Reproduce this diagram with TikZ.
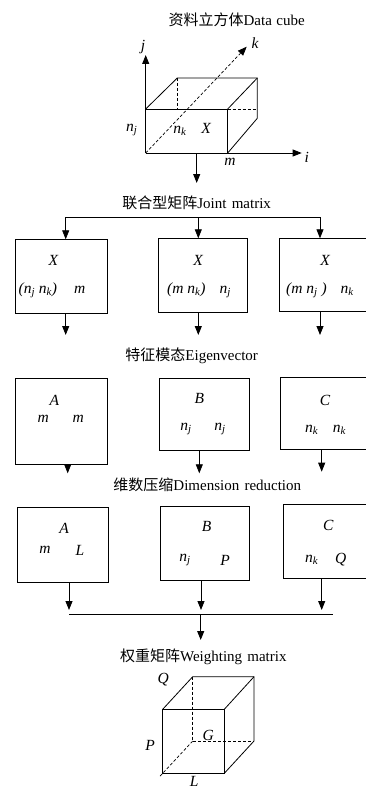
\documentclass[tikz,border=0pt]{standalone}
\usepackage{fontspec}
\setmainfont{Liberation Serif}
\newfontfamily\cjk{Noto Sans CJK SC}
\usetikzlibrary{arrows.meta}
\newcommand\nsub[2]{\textit{#1}\textsubscript{\textit{#2}}}
\tikzset{
  box/.style={draw, line width=0.8pt, inner sep=0pt, anchor=north west},
  arr/.style={-{Triangle[width=7pt,length=9pt]}, line width=0.8pt},
  ln/.style={line width=0.8pt},
  dsh/.style={line width=0.7pt, dashed, dash pattern=on 3pt off 2pt},
  ttl/.style={font=\fontsize{15}{15}\selectfont, inner sep=0pt},
  lbl/.style={font=\fontsize{15.5}{15.5}\selectfont\itshape, inner sep=0pt},
}
\begin{document}
\begin{tikzpicture}[x=1pt,y=-1pt]
\useasboundingbox (0,0) rectangle (365,789);

% ---------- Data cube ----------
\node[ttl] (t1) at (236.7,20) {{\cjk 资料立方体}Data\hspace{0.3em}cube};
\coordinate (O) at (145.7,153);
\coordinate (jtip) at (145.7,55);
\coordinate (itip) at (301.7,153);
\coordinate (ktip) at (246.7,46.7);
\coordinate (ftl) at (145.7,109);
\coordinate (ftr) at (227.7,109);
\coordinate (fbr) at (227.7,153);
\coordinate (btl) at (177.3,78);
\coordinate (btr) at (257.3,78);
\coordinate (bbr) at (257.3,118.3);
\coordinate (bbl) at (177.3,108.3);
\draw[arr] (O) -- (jtip);
\draw[arr] (O) -- (itip);
\draw[dsh,-{Triangle[width=7pt,length=9pt]}] (O) -- (ktip);
\draw[ln] (ftl) -- (ftr) -- (fbr);
\draw[ln] (ftl) -- (btl) -- (btr) -- (bbr) -- (fbr);
\draw[ln] (ftr) -- (btr);
\draw[dsh] (btl) -- (bbl);
\draw[dsh] (ftr) -- (ftr -| bbr);
\node[lbl] (lj) at (143,47) {j};
\node[lbl] (lk) at (255,43) {k};
\node[lbl] (li) at (306.7,157) {i};
\node[lbl] (lnj) at (131.7,130) {\nsub{n}{j}};
\node[lbl] (lnk) at (180,131) {\nsub{n}{k}};
\node[lbl] (lX) at (206,128) {X};
\node[lbl] (lm) at (230,162) {m};
\coordinate (c0) at (196.7,153);
\coordinate (c1) at (196.7,183);
\draw[arr] (c0) -- (c1);

% ---------- Joint matrix ----------
\node[ttl] (t2) at (196.7,203.3) {{\cjk 联合型矩阵}Joint\hspace{0.35em}matrix};
\coordinate (busL) at (65.7,217.3);
\coordinate (busM) at (198.3,217.3);
\coordinate (busR) at (320,217.3);
\draw[ln] (busL) -- (busR);
\node[box, minimum width=91.7pt, minimum height=74pt] (a1) at (15,239.3) {};
\node[box, minimum width=89pt, minimum height=74pt] (a2) at (157.7,238.3) {};
\node[box, minimum width=96pt, minimum height=72.4pt] (a3) at (279.3,238.3) {};
\draw[arr] (busL) -- (busL |- a1.north);
\draw[arr] (busM) -- (busM |- a2.north);
\draw[arr] (busR) -- (busR |- a3.north);
\node[lbl] (a1x) at (53.3,260) {X};
\node[lbl] (a1t) at (52,290) {(\nsub{n}{j} \nsub{n}{k})\hspace{1.1em}m};
\node[lbl] (a2x) at (198,260) {X};
\node[lbl] (a2t) at (199,290) {(m \nsub{n}{k})\hspace{0.9em}\nsub{n}{j}};
\node[lbl] (a3x) at (325,260) {X};
\node[lbl] (a3t) at (320,290) {(m \nsub{n}{j} )\hspace{0.9em}\nsub{n}{k}};
\coordinate (a1e) at (65.7,335);
\coordinate (a2e) at (198.3,335);
\coordinate (a3e) at (320,335);
\draw[arr] (a1e |- a1.south) -- (a1e);
\draw[arr] (a2e |- a2.south) -- (a2e);
\draw[arr] (a3e |- a3.south) -- (a3e);

% ---------- Eigenvector ----------
\node[ttl] (t3) at (191.7,356) {{\cjk 特征模态}Eigenvector};
\node[box, minimum width=92.3pt, minimum height=86pt] (b1) at (15,378.3) {};
\node[box, minimum width=90pt, minimum height=72.3pt] (b2) at (159,377.7) {};
\node[box, minimum width=95pt, minimum height=72.6pt] (b3) at (280,376.7) {};
\node[lbl] (b1l) at (54.3,400) {A};
\node[lbl] (b1m1) at (43.3,419.3) {m};
\node[lbl] (b1m2) at (78.3,419.3) {m};
\node[lbl] (b2l) at (199.3,398.3) {B};
\node[lbl] (b2n1) at (186,429.3) {\nsub{n}{j}};
\node[lbl] (b2n2) at (220,429.3) {\nsub{n}{j}};
\node[lbl] (b3l) at (325,400) {C};
\node[lbl] (b3n1) at (311.7,430) {\nsub{n}{k}};
\node[lbl] (b3n2) at (339.3,430) {\nsub{n}{k}};
\coordinate (b1e) at (67.7,473.3);
\coordinate (b2e) at (199.3,473.3);
\coordinate (b3e) at (321.7,471.7);
\draw[arr] (b1e |- b1.south) -- (b1e);
\draw[arr] (b2e |- b2.south) -- (b2e);
\draw[arr] (b3e |- b3.south) -- (b3e);

% ---------- Dimension reduction ----------
\node[ttl] (t4) at (207.3,485) {{\cjk 维数压缩}Dimension\hspace{0.35em}reduction};
\node[box, minimum width=91.6pt, minimum height=75pt] (d1) at (16.7,506.7) {};
\node[box, minimum width=89.3pt, minimum height=74pt] (d2) at (160,506) {};
\node[box, minimum width=93pt, minimum height=74pt] (d3) at (282.7,504.3) {};
\node[lbl] (d1l) at (64,528.3) {A};
\node[lbl] (d1m) at (45,550) {m};
\node[lbl] (d1L) at (80,550) {L};
\node[lbl] (d2l) at (206.7,526.7) {B};
\node[lbl] (d2n) at (185,560) {\nsub{n}{j}};
\node[lbl] (d2P) at (225,560) {P};
\node[lbl] (d3l) at (328.3,525) {C};
\node[lbl] (d3n) at (311.7,560) {\nsub{n}{k}};
\node[lbl] (d3Q) at (340.7,560) {Q};
\coordinate (d1e) at (69,610);
\coordinate (d2e) at (201,610);
\coordinate (d3e) at (321.7,610);
\draw[arr] (d1e |- d1.south) -- (d1e);
\draw[arr] (d2e |- d2.south) -- (d2e);
\draw[arr] (d3e |- d3.south) -- (d3e);
\coordinate (bus2L) at (69,614);
\coordinate (bus2M) at (200.7,614);
\coordinate (bus2R) at (333.3,614);
\coordinate (bus2E) at (200.7,640);
\draw[ln] (bus2L) -- (bus2R);
\draw[arr] (bus2M) -- (bus2E);

% ---------- Weighting matrix ----------
\node[ttl] (t5) at (203.3,656.7) {{\cjk 权重矩阵}Weighting\hspace{0.35em}matrix};
\coordinate (gftl) at (162.7,709.3);
\coordinate (gftr) at (224.3,709.3);
\coordinate (gfbr) at (224.3,773.3);
\coordinate (gfbl) at (162.7,773.3);
\coordinate (gbtl) at (192.7,676.7);
\coordinate (gbtr) at (254,676.7);
\coordinate (gbbr) at (254,741);
\coordinate (gbbl) at (192.7,741);
\coordinate (gext) at (159.5,776.7);
\draw[ln] (gftl) -- (gftr) -- (gfbr) -- (gfbl) -- cycle;
\draw[ln] (gftl) -- (gbtl) -- (gbtr) -- (gbbr) -- (gfbr);
\draw[ln] (gftr) -- (gbtr);
\draw[dsh] (gbtl) -- (gbbl) -- (gbbr);
\draw[dsh] (gbbl) -- (gext);
\node[lbl] (gQ) at (163.3,680) {Q};
\node[lbl] (gP) at (150,745) {P};
\node[lbl] (gG) at (208.3,735) {G};
\node[lbl] (gL) at (194.3,781.5) {L};
\end{tikzpicture}
\end{document}
